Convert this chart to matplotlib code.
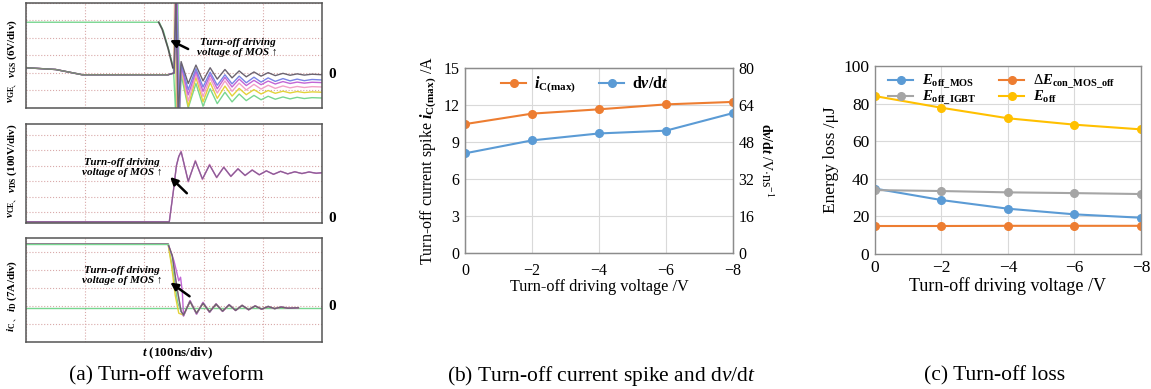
import numpy as np
import matplotlib
matplotlib.use("Agg")
import matplotlib.pyplot as plt
from matplotlib.ticker import MultipleLocator

plt.rcParams['font.family'] = ['Liberation Serif', 'DejaVu Sans']
plt.rcParams['mathtext.fontset'] = 'custom'
plt.rcParams['mathtext.rm'] = 'Liberation Serif'
plt.rcParams['mathtext.it'] = 'Liberation Serif:italic'
plt.rcParams['mathtext.bf'] = 'Liberation Serif:bold'
plt.rcParams['mathtext.bfit'] = 'Liberation Serif:bold:italic'

# ---------------- data ----------------
# (a) scope traces, x in divisions (100 ns/div), y in divisions
# box 1 : vGE / vGS
vgs_pre_x = [0, 0.5, 0.95, 2.40]
vgs_pre_y = [2.3, 2.2, 1.9, 1.9]
ring1_x = [2.62, 2.74, 2.87, 2.99, 3.11, 3.23, 3.36, 3.48, 3.60, 3.72,
           3.85, 3.97, 4.09, 4.21, 4.34, 4.46, 4.58, 4.70, 4.83, 5.0]
vgs_spike_x = {'0V': [2.50, 2.53, 2.57], '-2V': [2.50, 2.54, 2.58],
               '-4V': [2.50, 2.55, 2.59], '-6V': [2.50, 2.52, 2.56],
               '-8V': [2.50, 2.51, 2.55]}
vgs_spike_y = [2.0, 6.5, -0.5]
vgs_0v = [2.65, 1.40, 2.45, 1.55, 2.30, 1.65, 2.20, 1.72, 2.12, 1.78,
          2.06, 1.82, 2.02, 1.85, 1.98, 1.87, 1.95, 1.88, 1.93, 1.90]
vgs_m2v = [2.55, 1.05, 2.25, 1.20, 2.05, 1.30, 1.90, 1.38, 1.82, 1.44,
           1.76, 1.48, 1.72, 1.52, 1.68, 1.55, 1.65, 1.56, 1.63, 1.60]
vgs_m4v = [2.45, 0.75, 2.10, 0.95, 1.90, 1.10, 1.75, 1.20, 1.65, 1.28,
           1.58, 1.33, 1.54, 1.37, 1.51, 1.40, 1.48, 1.42, 1.47, 1.45]
vgs_m6v = [2.40, 0.40, 1.95, 0.65, 1.70, 0.85, 1.55, 0.95, 1.42, 1.03,
           1.35, 1.08, 1.30, 1.12, 1.26, 1.15, 1.23, 1.17, 1.22, 1.20]
vgs_m8v = [2.30, 0.10, 1.75, 0.35, 1.45, 0.55, 1.25, 0.68, 1.12, 0.76,
           1.05, 0.80, 1.00, 0.84, 0.96, 0.86, 0.94, 0.88, 0.92, 0.90]
vge_x = [0, 2.25, 2.32, 2.42, 2.49, 2.53, 2.56, 2.60]
vge_y = [4.9, 4.9, 4.4, 3.2, 2.3, -0.5, 6.5, 0.0]
vge_ring = [1.90, 0.0, 1.40, 0.10, 1.10, 0.25, 0.90, 0.35, 0.80, 0.42,
            0.72, 0.47, 0.67, 0.50, 0.63, 0.52, 0.61, 0.54, 0.59, 0.57]
vge_fall_x = [2.24, 2.30, 2.40, 2.48]
vge_fall_y = [4.9, 4.5, 3.4, 2.3]

# box 2 : vCE / vDS
vds_pre_x = [0, 2.42]
vds_pre_y = [-0.62, -0.62]
ring2_x = [2.62, 2.74, 2.86, 2.98, 3.10, 3.22, 3.34, 3.46, 3.58, 3.70, 3.82,
           3.94, 4.06, 4.18, 4.30, 4.42, 4.54, 4.66, 4.78, 4.90, 5.0]
vds_rise_x = [2.49, 2.54, 2.58]
vds_rise_y = [1.4, 3.0, 3.6]
vds_a = [3.90, 2.00, 3.30, 2.15, 3.05, 2.25, 2.90, 2.32, 2.80, 2.38, 2.72,
         2.42, 2.67, 2.45, 2.64, 2.48, 2.61, 2.50, 2.60, 2.52, 2.55]
vds_b = [3.95, 1.95, 3.35, 2.10, 3.10, 2.22, 2.93, 2.30, 2.82, 2.36, 2.74,
         2.41, 2.68, 2.44, 2.65, 2.47, 2.62, 2.49, 2.60, 2.51, 2.55]

# box 3 : iC / iD
ic_pre_x = [0, 2.40]
ic_pre_y = [5.44, 5.44]
id_x = [0, 5.0]
id_y = [1.9, 1.9]
ring3_x = [2.66, 2.77, 2.88, 2.99, 3.10, 3.21, 3.32, 3.43, 3.54,
           3.65, 3.76, 3.87, 3.98, 4.09, 4.20, 4.31, 4.42, 4.60]
ic_fall_gray = ([2.47, 2.55, 2.62], [4.8, 3.0, 1.7])
ic_fall_purple = ([2.50, 2.58, 2.61, 2.64], [4.5, 3.4, 3.6, 2.8])
ic_fall_yellow = ([2.46, 2.52, 2.58], [4.2, 2.6, 1.6])
ic_fall_green = ([2.48, 2.56, 2.62], [4.0, 2.2, 1.7])
ic_ring_a = [1.50, 2.25, 1.60, 2.15, 1.68, 2.10, 1.72, 2.06, 1.76,
             2.03, 1.80, 2.00, 1.83, 1.97, 1.86, 1.94, 1.88, 1.90]
ic_ring_b = [1.45, 2.30, 1.55, 2.20, 1.65, 2.12, 1.70, 2.08, 1.75,
             2.04, 1.79, 2.01, 1.82, 1.98, 1.85, 1.95, 1.88, 1.90]

# (b) and (c)
drive_v = [0, -2, -4, -6, -8]
ic_max = [10.45, 11.3, 11.65, 12.05, 12.25]
dv_dt = [43.1, 48.7, 51.7, 52.9, 60.5]
e_off_mos = [34.8, 28.7, 24.1, 21.1, 19.3]
e_off_igbt = [34.0, 33.5, 32.8, 32.4, 31.9]
de_con = [14.9, 14.9, 15.0, 15.0, 15.0]
e_off = [84.0, 77.8, 72.2, 68.8, 66.3]

C_BLUE, C_ORANGE, C_GRAY, C_YELLOW = '#5B9BD5', '#ED7D31', '#A5A5A5', '#FFC000'
cols = {'0V': '#6b6370', '-2V': '#7a84e6', '-4V': '#c266d6',
        '-6V': '#f2a0c8', '-8V': '#e3d23a', 'g': '#78d690'}

fig = plt.figure(figsize=(11.51, 3.89), dpi=100)


def scope_axes(rect, ylim):
    ax = fig.add_axes(rect)
    ax.set_xlim(0, 5)
    ax.set_ylim(*ylim)
    ax.xaxis.set_major_locator(MultipleLocator(1))
    ax.yaxis.set_major_locator(MultipleLocator(1))
    ax.tick_params(length=0, labelbottom=False, labelleft=False)
    ax.grid(True, color='#d9a9a9', ls=':', lw=0.8)
    for s in ax.spines.values():
        s.set_color('#555555')
        s.set_linewidth(1.1)
    return ax


note = "Turn-off driving\nvoltage of MOS \u2191"
nkw = dict(fontsize=8, fontweight='bold', fontstyle='italic', ha='center', va='center',
           family=['Liberation Serif', 'DejaVu Sans'])
akw = dict(arrowstyle='-|>', color='black', lw=1.8, mutation_scale=11)

# box 1
ax1 = scope_axes([0.0226, 0.7224, 0.2572, 0.2699], (0, 6))
ax1.plot(vge_x + ring1_x, vge_y + vge_ring, color=cols['g'], lw=1)
for key, ring in [('-8V', vgs_m8v), ('-6V', vgs_m6v), ('-4V', vgs_m4v),
                  ('-2V', vgs_m2v), ('0V', vgs_0v)]:
    ax1.plot(vgs_pre_x + vgs_spike_x[key] + ring1_x,
             vgs_pre_y + vgs_spike_y + ring, color=cols[key], lw=1)
ax1.plot(vgs_pre_x, vgs_pre_y, color='#7f8a78', lw=1)
ax1.plot(vge_fall_x, vge_fall_y, color='#555555', lw=1.2)
ax1.annotate('', xy=(2.39, 3.95), xytext=(2.78, 3.3), arrowprops=akw)
ax1.text(3.57, 3.45, note, **nkw)

# box 2
ax2 = scope_axes([0.0226, 0.4267, 0.2572, 0.2545], (-0.7, 5.7))
ax2.plot(vds_pre_x + vds_rise_x + ring2_x, vds_pre_y + vds_rise_y + vds_b,
         color=cols['-6V'], lw=1)
ax2.plot(vds_pre_x + vds_rise_x + ring2_x, vds_pre_y + vds_rise_y + vds_a,
         color=cols['-4V'], lw=1)
ax2.plot(vds_pre_x + vds_rise_x + ring2_x, vds_pre_y + vds_rise_y + vds_a,
         color='#6b6370', lw=0.8, alpha=0.7)
ax2.annotate('', xy=(2.4, 2.4), xytext=(2.75, 1.1), arrowprops=akw)
ax2.text(1.62, 2.9, note, **nkw)

# box 3
ax3 = scope_axes([0.0226, 0.1208, 0.2572, 0.2674], (0, 5.78))
ax3.plot(id_x, id_y, color=cols['g'], lw=1)
for (fx, fy), ring, c in [(ic_fall_green, ic_ring_b, cols['g']),
                          (ic_fall_yellow, ic_ring_a, cols['-8V']),
                          (ic_fall_gray, ic_ring_b, cols['-6V']),
                          (ic_fall_purple, ic_ring_b, cols['-4V']),
                          (ic_fall_gray, ic_ring_a, cols['0V'])]:
    ax3.plot(ic_pre_x + fx + ring3_x, ic_pre_y + fy + ring, color=c, lw=1)
ax3.plot(ic_pre_x, ic_pre_y, color=cols['g'], lw=1)
ax3.annotate('', xy=(2.4, 3.4), xytext=(2.8, 2.45), arrowprops=akw)
ax3.text(1.62, 3.7, note, **nkw)

# zero markers / labels of (a)
for yp in [75, 218, 307]:
    fig.text(328 / 1151, 1 - yp / 389, '0', fontsize=11, fontweight='bold', va='center')
# (first symbol, its bottom px, rest of label, its bottom px, comma px)
ylab = [("$\\mathbfit{v}_{\\mathbf{GE}}$", 103, "$\\mathbfit{v}_{\\mathbf{GS}}\\ \\mathbf{(6V/div)}$", 78, 83),
        ("$\\mathbfit{v}_{\\mathbf{CE}}$", 218, "$\\mathbfit{v}_{\\mathbf{DS}}\\ \\mathbf{(100V/div)}$", 193, 198),
        ("$\\mathbfit{i}_{\\mathbf{C}}$", 332, "$\\mathbfit{i}_{\\mathbf{D}}\\ \\mathbf{(7A/div)}$", 312, 317)]
for a, ya, b, yb, yc in ylab:
    fig.text(12 / 1151, 1 - ya / 389, a, rotation=90, fontsize=8, ha='center', va='bottom')
    fig.text(12 / 1151, 1 - yb / 389, b, rotation=90, fontsize=8, ha='center', va='bottom')
    fig.text(14 / 1151, 1 - yc / 389, '\u3001', rotation=90, fontsize=5.5, ha='center', va='center',
             family=['Noto Sans CJK SC'])
fig.text(177 / 1151, 1 - 353 / 389, "$\\mathbfit{t}\\ \\mathbf{(100ns/div)}$",
         fontsize=9.5, ha='center', va='center')


def excel_style(ax, size):
    ax.tick_params(length=0, labelsize=size, pad=4)
    ax.grid(True, color='#d9d9d9', lw=0.8)
    for s in ax.spines.values():
        s.set_color('#8c8c8c')
        s.set_linewidth(1.0)


# (b)
axb = fig.add_axes([0.4040, 0.3496, 0.2328, 0.4756])
lb1, = axb.plot(drive_v, ic_max, color=C_ORANGE, marker='o', ms=5.5, lw=1.5,
                label='$\\mathbfit{i}_{\\mathbf{C(max)}}$')
axb.set_xlim(0, -8)
axb.set_xticks(drive_v)
axb.set_ylim(0, 15)
axb.set_yticks([0, 3, 6, 9, 12, 15])
excel_style(axb, 11.5)
axb.tick_params(axis='x', pad=7)
axb.set_xlabel('Turn-off driving voltage /V', fontsize=11.7, labelpad=0)
axb.set_ylabel('Turn-off current spike $\\mathbfit{i}_{\\mathbf{C(max)}}$ /A', fontsize=11.5, labelpad=3)
axb2 = axb.twinx()
lb2, = axb2.plot(drive_v, dv_dt, color=C_BLUE, marker='o', ms=5.5, lw=1.5,
                 label='$\\mathbf{d}\\mathbfit{v}\\mathbf{/d}\\mathbfit{t}$')
axb2.set_ylim(0, 80)
axb2.set_yticks([0, 16, 32, 48, 64, 80])
axb2.tick_params(length=0, labelsize=11.5, pad=4)
for s in axb2.spines.values():
    s.set_color('#8c8c8c')
axb2.set_ylabel('$\\mathbf{d}\\mathbfit{v}\\mathbf{/d}\\mathbfit{t}$ /V$\\cdot$ns$^{-1}$',
                fontsize=10, rotation=270, labelpad=14)
axb.legend(handles=[lb1, lb2], ncol=2, loc='upper left', bbox_to_anchor=(0.08, 1.04),
           frameon=False, fontsize=11.5, handlelength=1.6, handletextpad=0.5,
           columnspacing=1.4)

# (c)
axc = fig.add_axes([0.7602, 0.3470, 0.2311, 0.4833])
axc.plot(drive_v, e_off_mos, color=C_BLUE, marker='o', ms=5.5, lw=1.5,
         label='$\\mathbfit{E}_{\\mathbf{off\\_MOS}}$')
axc.plot(drive_v, e_off_igbt, color=C_GRAY, marker='o', ms=5.5, lw=1.5,
         label='$\\mathbfit{E}_{\\mathbf{off\\_IGBT}}$')
axc.plot(drive_v, de_con, color=C_ORANGE, marker='o', ms=5.5, lw=1.5,
         label='$\\Delta\\mathbfit{E}_{\\mathbf{con\\_MOS\\_off}}$')
axc.plot(drive_v, e_off, color=C_YELLOW, marker='o', ms=5.5, lw=1.5,
         label='$\\mathbfit{E}_{\\mathbf{off}}$')
axc.set_xlim(0, -8)
axc.set_xticks(drive_v)
axc.set_ylim(0, 100)
axc.set_yticks([0, 20, 40, 60, 80, 100])
excel_style(axc, 12.5)
axc.set_xlabel('Turn-off driving voltage /V', fontsize=13, labelpad=1)
axc.set_ylabel('Energy loss /\u03bcJ', fontsize=12.5, labelpad=3)
axc.legend(ncol=2, loc='upper left', bbox_to_anchor=(0.0, 1.035), frameon=False,
           fontsize=10.5, handlelength=1.7, handletextpad=0.6, columnspacing=1.6,
           labelspacing=-0.15)

# captions
fig.text(166 / 1151, 13 / 389, '(a) Turn-off waveform', fontsize=15.5, ha='center', va='center')
fig.text(601 / 1151, 13 / 389, '(b) Turn-off current spike and d$\\mathit{v}$/d$\\mathit{t}$',
         fontsize=15.5, ha='center', va='center')
fig.text(995 / 1151, 13 / 389, '(c) Turn-off loss', fontsize=15.5, ha='center', va='center')

fig.savefig('out.png', dpi=100)
